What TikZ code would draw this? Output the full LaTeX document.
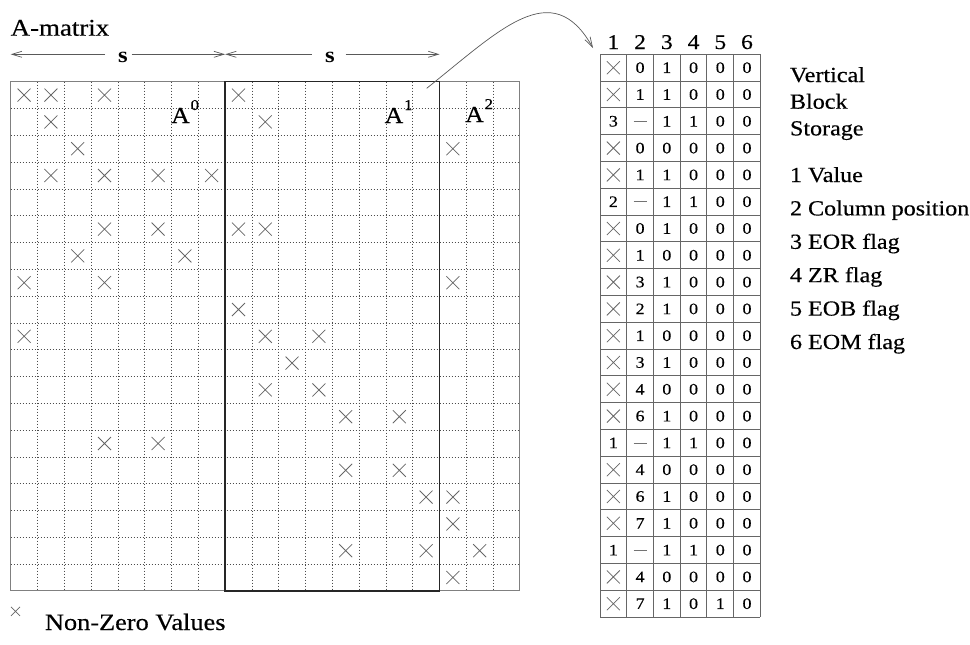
\documentclass[tikz,border=0pt]{standalone}
\usepackage{fontspec}
\setmainfont[FakeStretch=1.12,UprightFeatures={FakeBold=0.4}]{Liberation Serif}
\usetikzlibrary{arrows.meta,shapes.misc}
\newcommand{\fsz}[1]{\fontsize{#1}{#1}\selectfont}
\newcommand{\dsh}{\textcolor{black!55}{\rule{13pt}{0.7pt}}}
\begin{document}
\begin{tikzpicture}[x=1pt,y=-1pt,
  xmark/.style={cross out,draw=black!60,line width=0.75pt,minimum size=13pt,inner sep=0pt,outer sep=0pt},
  smallx/.style={xmark,minimum size=9pt},
  dotgrid/.style={draw=black!70,line width=0.6pt,dash pattern=on 0.9pt off 2.1pt},
  mborder/.style={draw=black!50,line width=1pt,inner sep=0pt,outer sep=0pt,anchor=north west},
  blkbox/.style={draw=black!85,line width=1.3pt,inner sep=0pt,outer sep=0pt,anchor=north west},
  tline/.style={draw=black!60,line width=0.9pt},
  sarrow/.style={draw=black!65,line width=0.7pt,-{Straight Barb[length=10pt,width=6pt]}},
  lbl/.style={inner sep=0pt,outer sep=0pt,anchor=base west},
  cellt/.style={inner sep=0pt,font=\fsz{16}},
  hdr/.style={inner sep=0pt,anchor=base,font=\fsz{21}},
  alabel/.style={inner sep=0pt,anchor=base west,font=\fsz{23}},
  slabel/.style={inner sep=0pt,font=\fsz{22}\bfseries},
]
\useasboundingbox (0,0) rectangle (970,645);
\def\mx{10.7}\def\my{81.7}\def\cs{26.8}
\def\tx{600}\def\ty{54.3}\def\tw{26.73}\def\th{26.8}

% ---- A-matrix grid ----
\foreach \i in {1,...,18} {
  \draw[dotgrid] ({\mx+\cs*\i},\my) -- ({\mx+\cs*\i},{\my+19*\cs});
  \draw[dotgrid] (\mx,{\my+\cs*\i}) -- ({\mx+19*\cs},{\my+\cs*\i});
}
\node[mborder,minimum width=509.2pt,minimum height=509.2pt] (Amat) at (\mx,\my) {};
\node[blkbox,minimum width=214.4pt,minimum height=509.2pt] (A1box) at (225.1,\my) {};

% ---- non-zero entries ----
\foreach \r/\cl in {0/{0,1,3,8},1/{1,9},2/{2,16},3/{1,3,5,7},5/{3,5,8,9},6/{2,6},7/{0,3,16},8/{8},9/{0,9,11},10/{10},11/{9,11},12/{12,14},13/{3,5},14/{12,14},15/{15,16},16/{16},17/{12,15,17},18/{16}}
  \foreach \c in \cl
    \node[xmark] (x-\r-\c) at ({\mx+\cs*(\c+0.5)},{\my+\cs*(\r+0.5)}) {};

% ---- block labels ----
\node[alabel] (A0) at (171,123) {A\hspace{0.8pt}\raisebox{13pt}{\fsz{15}0}};
\node[alabel] (A1) at (384.5,123) {A\hspace{0.8pt}\raisebox{13pt}{\fsz{15}1}};
\node[alabel] (A2) at (465,122) {A\hspace{0.8pt}\raisebox{13pt}{\fsz{15}2}};

% ---- title and s arrows ----
\node[lbl,font=\fsz{24}] (title) at (10.7,35.7) {A-matrix};
\node[slabel] (s1) at (123,57.2) {s};
\node[slabel] (s2) at (330,57.2) {s};
\coordinate (aL) at (\mx,54.3);
\coordinate (aM) at (225.1,54.3);
\coordinate (aR) at (439.5,54.3);
\coordinate (s1a) at (105,54.3);
\coordinate (s1b) at (131.7,54.3);
\coordinate (s2a) at (311.7,54.3);
\coordinate (s2b) at (345.7,54.3);
\draw[sarrow] (s1a) -- (aL);
\draw[sarrow] (s1b) -- (aM);
\draw[sarrow] (s2a) -- (aM);
\draw[sarrow] (s2b) -- (aR);

% ---- storage table ----
\foreach \k in {0,...,6}
  \draw[tline] ({\tx+\tw*\k},\ty) -- ({\tx+\tw*\k},{\ty+21*\th});
\foreach \k in {0,...,21}
  \draw[tline] (\tx,{\ty+\th*\k}) -- ({\tx+6*\tw},{\ty+\th*\k});
\foreach \k in {1,...,6}
  \node[hdr] (h\k) at ({\tx+\tw*(\k-0.5)},49) {\k};
\foreach \r in {0,1,3,4,6,7,8,9,10,11,12,13,15,16,17,19,20}
  \node[xmark] (tx-\r) at ({\tx+\tw*0.5},{\ty+\th*(\r+0.5)}) {};
\foreach \r/\v in {2/3,5/2,14/1,18/1}
  \node[cellt] (tv-\r) at ({\tx+\tw*0.5},{\ty+\th*(\r+0.5)}) {\v};
\foreach \b/\c/\d/\e/\f [count=\r from 0] in {0/1/0/0/0,1/1/0/0/0,\dsh/1/1/0/0,0/0/0/0/0,1/1/0/0/0,\dsh/1/1/0/0,0/1/0/0/0,1/0/0/0/0,3/1/0/0/0,2/1/0/0/0,1/0/0/0/0,3/1/0/0/0,4/0/0/0/0,6/1/0/0/0,\dsh/1/1/0/0,4/0/0/0/0,6/1/0/0/0,7/1/0/0/0,\dsh/1/1/0/0,4/0/0/0/0,7/1/0/1/0} {
  \node[cellt] (t-\r-2) at ({\tx+\tw*1.5},{\ty+\th*(\r+0.5)}) {\b};
  \node[cellt] (t-\r-3) at ({\tx+\tw*2.5},{\ty+\th*(\r+0.5)}) {\c};
  \node[cellt] (t-\r-4) at ({\tx+\tw*3.5},{\ty+\th*(\r+0.5)}) {\d};
  \node[cellt] (t-\r-5) at ({\tx+\tw*4.5},{\ty+\th*(\r+0.5)}) {\e};
  \node[cellt] (t-\r-6) at ({\tx+\tw*5.5},{\ty+\th*(\r+0.5)}) {\f};
}

% ---- curved arrow from A1 block to table ----
\coordinate (cA) at (426.7,88.3);
\coordinate (cB) at (593,48);
\draw[sarrow] (cA) .. controls (500,30) and (552,-25) .. (cB);

% ---- legend on the right ----
\foreach \t/\yy [count=\n] in {Vertical/82,Block/108.7,Storage/135.4}
  \node[lbl,font=\fsz{21.5}] (vb\n) at (790,\yy) {\t};
\foreach \t/\yy [count=\n] in {1 Value/182,2 Column position/215.4,3 EOR flag/248.8,4 ZR flag/282.2,5 EOB flag/315.6,6 EOM flag/349}
  \node[lbl,font=\fsz{21.5}] (fl\n) at (790,\yy) {\t};

% ---- bottom legend ----
\node[smallx] (nzx) at (15.5,611.3) {};
\node[lbl,font=\fsz{23.5}] (nzt) at (45,630) {Non-Zero Values};
\end{tikzpicture}
\end{document}
